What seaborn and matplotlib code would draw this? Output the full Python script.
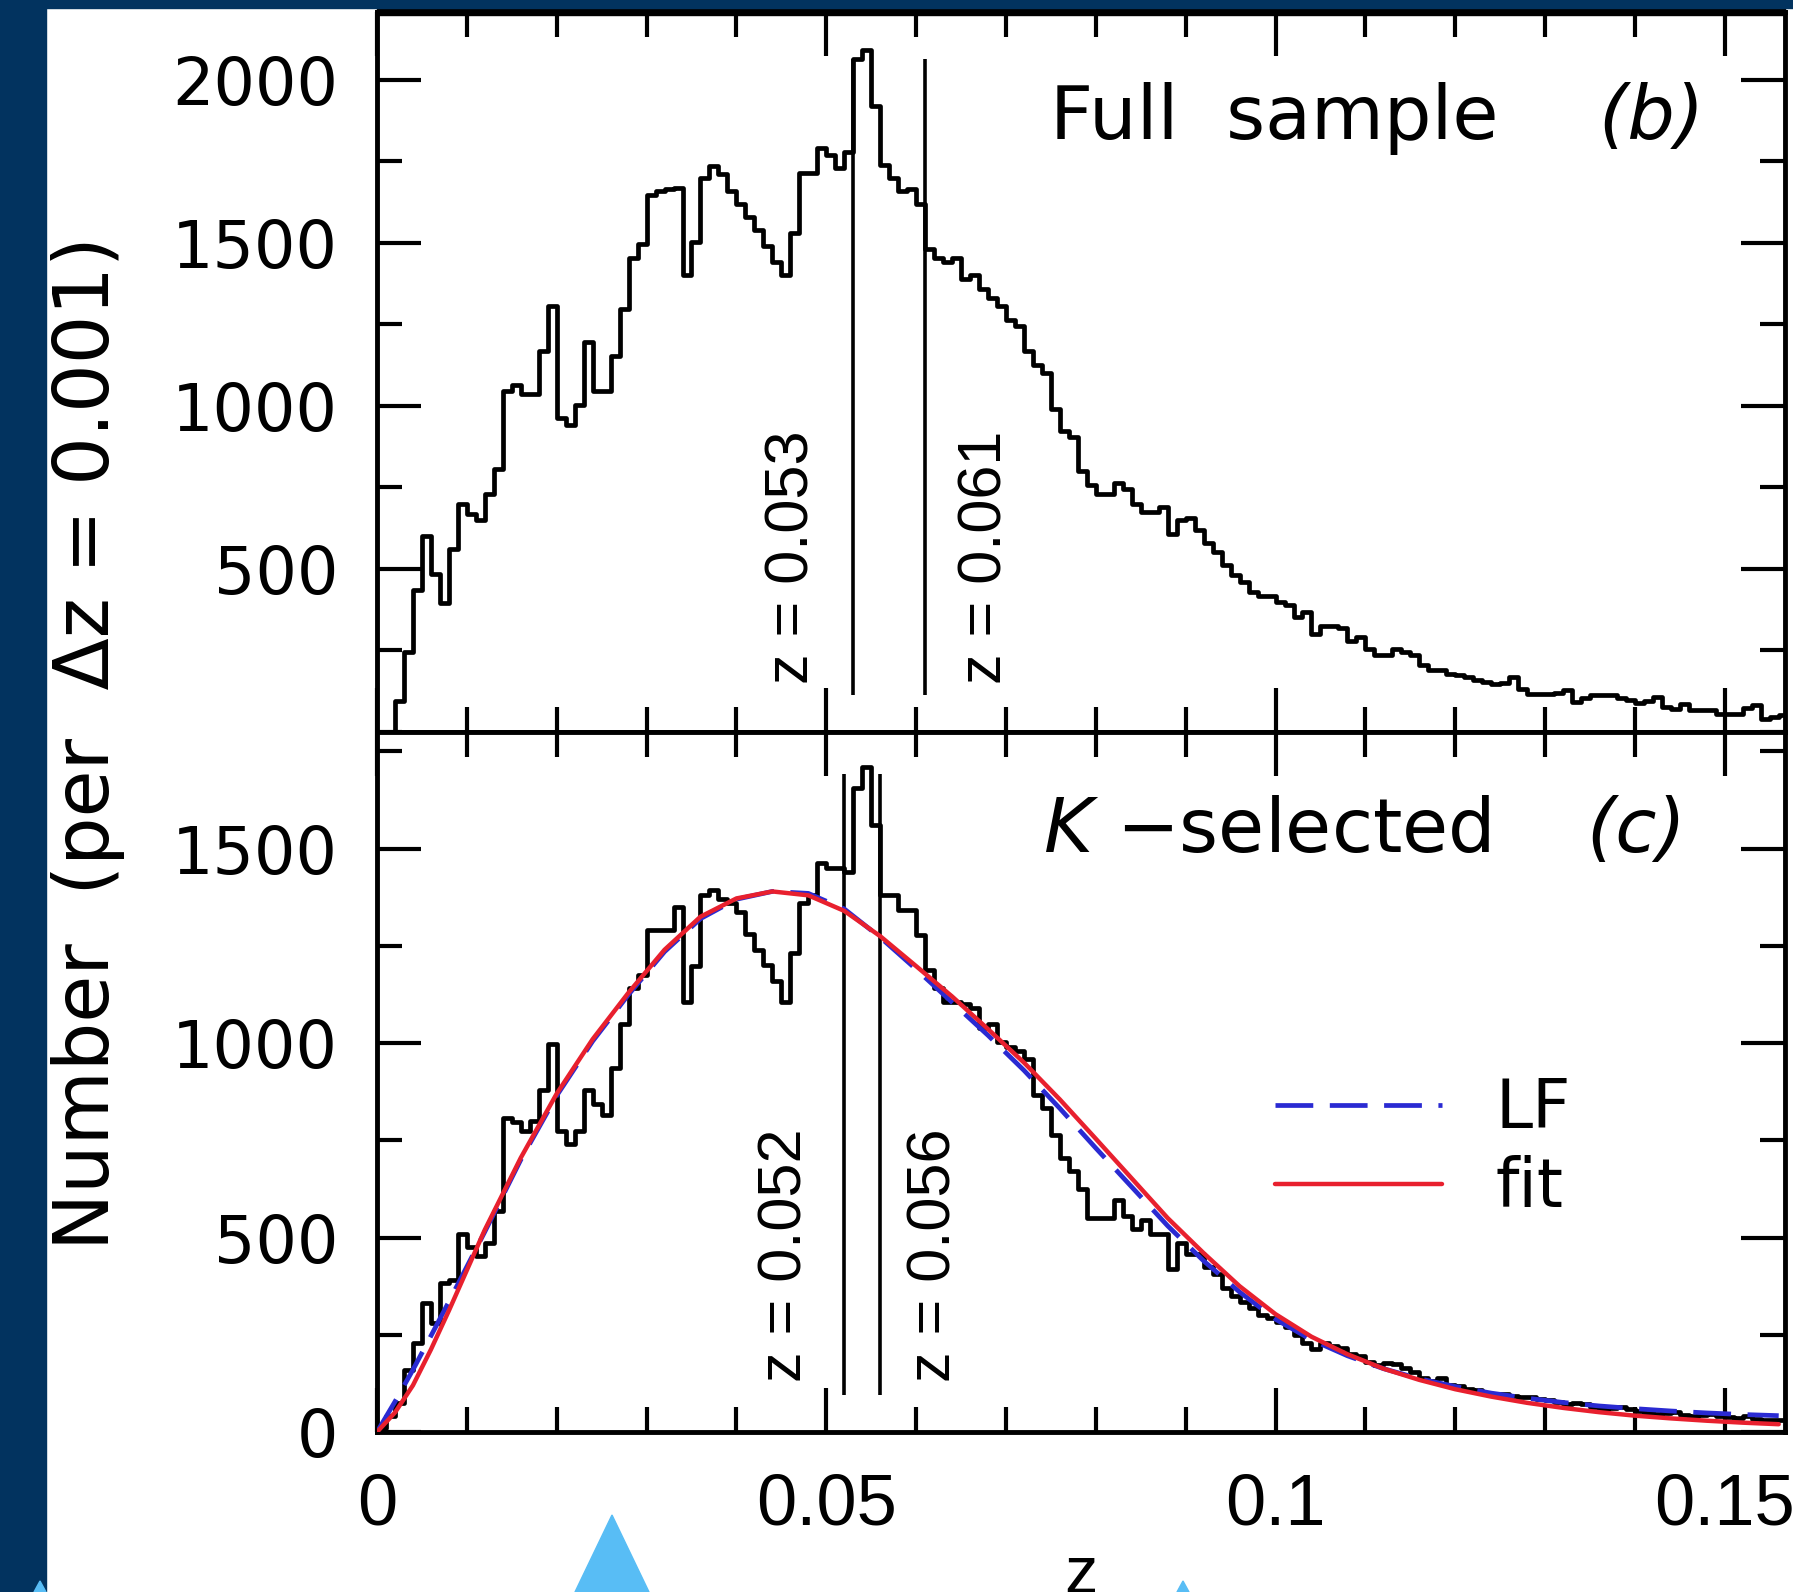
import numpy as np
import pandas as pd
import matplotlib
matplotlib.use("Agg")
import matplotlib.pyplot as plt
import seaborn as sns
from matplotlib.patches import Rectangle, Polygon
from matplotlib.ticker import MultipleLocator, FixedLocator

# ---------------- data ----------------
BIN = 0.001
X_MAX = 0.1567

# Full sample (b): counts per dz = 0.001, z = 0.000 ... 0.157
full_counts = [
    0, 0, 96, 246, 437, 600, 485, 396, 560, 700,
    670, 649, 730, 806, 1045, 1065, 1038, 1038, 1168, 1305,
    963, 943, 1004, 1195, 1045, 1045, 1154, 1298, 1455, 1496,
    1646, 1660, 1665, 1667, 1400, 1503, 1700, 1735, 1710, 1660,
    1620, 1580, 1540, 1490, 1440, 1400, 1530, 1715, 1715, 1790,
    1770, 1730, 1780, 2063, 2090, 1920, 1740, 1700, 1660, 1665,
    1620, 1480, 1455, 1440, 1455, 1390, 1400, 1360, 1332, 1305,
    1264, 1245, 1168, 1127, 1100, 990, 922, 905, 800, 758,
    731, 731, 765, 745, 700, 676, 676, 690, 608, 649,
    656, 621, 580, 553, 512, 480, 460, 430, 417, 417,
    400, 388, 352, 367, 301, 326, 326, 320, 280, 291,
    255, 235, 235, 255, 245, 235, 204, 189, 189, 179,
    175, 168, 160, 153, 148, 150, 168, 133, 117, 117,
    117, 120, 128, 92, 105, 112, 112, 112, 105, 97,
    90, 95, 107, 77, 71, 87, 66, 66, 66, 56,
    56, 56, 75, 82, 41, 45, 51,
]

# K-selected (c)
k_counts = [
    10, 40, 75, 160, 229, 333, 281, 384, 390, 510,
    476, 453, 487, 568, 808, 797, 774, 800, 880, 998,
    774, 740, 774, 880, 843, 814, 935, 1050, 1141, 1175,
    1290, 1290, 1290, 1350, 1107, 1198, 1382, 1395, 1370, 1360,
    1336, 1280, 1240, 1200, 1160, 1107, 1233, 1360, 1382, 1462,
    1451, 1451, 1440, 1657, 1709, 1560, 1382, 1382, 1342, 1342,
    1279, 1187, 1141, 1107, 1107, 1100, 1090, 1038, 1049, 1004,
    990, 981, 958, 866, 832, 763, 705, 671, 625, 551,
    551, 551, 596, 556, 522, 545, 510, 510, 419, 487,
    459, 459, 424, 407, 370, 350, 335, 320, 300, 292,
    284, 270, 249, 230, 213, 230, 220, 215, 201, 195,
    180, 172, 178, 175, 165, 154, 140, 130, 140, 120,
    118, 110, 107, 100, 95, 97, 93, 89, 89, 85,
    83, 78, 71, 74, 71, 65, 59, 62, 65, 58,
    53, 50, 47, 49, 52, 45, 41, 44, 46, 40,
    38, 36, 40, 34, 30, 32, 30,
]

# smooth model curves
curve_z = [0.000, 0.002, 0.004, 0.006, 0.008, 0.012, 0.016, 0.020, 0.024, 0.028,
           0.032, 0.036, 0.040, 0.044, 0.048, 0.052, 0.056, 0.060, 0.064, 0.068,
           0.072, 0.076, 0.080, 0.084, 0.088, 0.092, 0.096, 0.100, 0.104, 0.108,
           0.112, 0.116, 0.120, 0.124, 0.128, 0.132, 0.136, 0.140, 0.144, 0.148,
           0.152, 0.156]
lf_vals = [0, 78, 160, 247, 335, 515, 700, 865, 1005, 1125,
           1235, 1320, 1370, 1390, 1385, 1345, 1272, 1190, 1105, 1020,
           930, 832, 730, 630, 530, 440, 360, 290, 237, 196,
           163, 137, 117, 100, 87, 76, 67, 60, 54, 49,
           45, 42]
fit_vals = [0, 50, 120, 212, 312, 520, 705, 870, 1010, 1130,
            1240, 1325, 1372, 1390, 1380, 1340, 1275, 1198, 1120, 1036,
            950, 855, 754, 652, 550, 460, 375, 303, 245, 200,
            163, 134, 110, 91, 75, 62, 51, 42, 35, 29,
            24, 20]

# marker lines
b_lines = [0.053, 0.061]
b_line_span = (112, 2063)
c_lines = [0.052, 0.056]
c_line_span = (95, 1692)

# ---------------- style ----------------
sns.set_style("white")
plt.rcParams["font.family"] = ["DejaVu Sans"]
plt.rcParams["mathtext.fontset"] = "dejavusans"
for key in ("text.color", "axes.labelcolor", "xtick.color", "ytick.color"):
    plt.rcParams[key] = "black"

W, H = 1793, 1592
fig = plt.figure(figsize=(W / 100, H / 100), dpi=100)
fig.patch.set_facecolor("white")


def fx(px):
    return px / W


def fy(py):
    return 1 - py / H


L, R = 377, 1785
ax_b = fig.add_axes([fx(L), fy(732), (R - L) / W, (732 - 12) / H])
ax_c = fig.add_axes([fx(L), fy(1432), (R - L) / W, (1432 - 732) / H])


def draw_hist(ax, counts):
    n = len(counts)
    centers = (np.arange(n) + 0.5) * BIN
    df = pd.DataFrame({"z": centers, "n": np.asarray(counts, dtype=float)})
    sns.histplot(data=df, x="z", weights="n", binwidth=BIN, binrange=(0, n * BIN),
                 element="step", fill=False, color="black", linewidth=3.4, ax=ax)


draw_hist(ax_b, full_counts)
draw_hist(ax_c, k_counts)

sns.lineplot(x=curve_z, y=lf_vals, ax=ax_c, color="#2a2ad2", linewidth=3.4,
             linestyle=(0, (8, 3.5)), label="LF", zorder=4)
sns.lineplot(x=curve_z, y=fit_vals, ax=ax_c, color="#e8202e", linewidth=3.2,
             label="fit", zorder=5)

ax_b.vlines(b_lines, b_line_span[0], b_line_span[1], color="black", linewidth=2.6)
ax_c.vlines(c_lines, c_line_span[0], c_line_span[1], color="black", linewidth=2.6)

ann_font = dict(family="Liberation Sans", fontsize=44, rotation=90,
                ha="center", va="center")
ax_b.text(0.04627, 536, f"z = {b_lines[0]:.3f}", **ann_font)
ax_b.text(0.06774, 536, f"z = {b_lines[1]:.3f}", **ann_font)
ax_c.text(0.04555, 455, f"z = {c_lines[0]:.3f}", **ann_font)
ax_c.text(0.06210, 455, f"z = {c_lines[1]:.3f}", **ann_font)

# axes formatting
for ax in (ax_b, ax_c):
    ax.set_xlim(0, X_MAX)
    ax.xaxis.set_major_locator(FixedLocator([0, 0.05, 0.1, 0.15]))
    ax.xaxis.set_minor_locator(MultipleLocator(0.01))
    ax.yaxis.set_minor_locator(MultipleLocator(250))
    ax.tick_params(which="both", direction="in", top=True, right=True,
                   bottom=True, left=True, width=3, color="black")
    ax.tick_params(which="major", length=32)
    ax.tick_params(which="minor", length=18)
    ax.tick_params(axis="y", labelsize=47, pad=28)
    for s in ax.spines.values():
        s.set_linewidth(3.5)
        s.set_color("black")
    ax.set_xlabel("")
    ax.set_ylabel("")
    ax.set_facecolor("white")

ax_b.set_ylim(0, 2208)
ax_b.yaxis.set_major_locator(FixedLocator([500, 1000, 1500, 2000]))
ax_b.tick_params(axis="x", labelbottom=False)

ax_c.set_ylim(0, 1800)
ax_c.yaxis.set_major_locator(FixedLocator([0, 500, 1000, 1500]))
ax_c.set_xticks([0, 0.05, 0.1, 0.15])
ax_c.set_xticklabels(["0", "0.05", "0.1", "0.15"], family="Liberation Sans", fontsize=52)
ax_c.tick_params(axis="x", pad=29)
ax_c.set_xlabel("z", family="Liberation Sans", fontsize=48, labelpad=4)

# panel titles
ax_b.text(0.478, 0.823, "Full  sample", transform=ax_b.transAxes,
          fontsize=54, ha="left", va="baseline")
ax_b.text(0.9425, 0.823, "(b)", transform=ax_b.transAxes, fontsize=54,
          style="italic", ha="right", va="baseline")
ax_c.text(0.473, 0.8286, r"$K$ −selected", transform=ax_c.transAxes,
          fontsize=54, ha="left", va="baseline")
ax_c.text(0.930, 0.8286, "(c)", transform=ax_c.transAxes, fontsize=54,
          style="italic", ha="right", va="baseline")

ax_c.legend(loc="center left", bbox_to_anchor=(0.638, 0.405), frameon=False,
            fontsize=48, handlelength=2.5, handletextpad=0.8, labelspacing=0.2,
            borderpad=0, borderaxespad=0)

fig.text(fx(88), fy(743), "Number  (per  Δz = 0.001)", rotation=90,
         fontsize=55, ha="center", va="center")

# slide decorations
navy = "#02335f"
fig.patches.append(Rectangle((0, 0), fx(46), 1, transform=fig.transFigure,
                             color=navy, zorder=10))
fig.patches.append(Rectangle((0, fy(8)), 1, 8 / H, transform=fig.transFigure,
                             color=navy, zorder=10))
fig.patches.append(Rectangle((fx(L), fy(15)), (R - L) / W, 8 / H,
                             transform=fig.transFigure, color="black", zorder=9))
sky = "#58bdf5"
fig.patches.append(Polygon([(fx(575), 0), (fx(612), fy(1515)), (fx(649), 0)],
                           closed=True, transform=fig.transFigure, color=sky, zorder=11))
fig.patches.append(Polygon([(fx(34), 0), (fx(40), fy(1581)), (fx(46), 0)],
                           closed=True, transform=fig.transFigure, color=sky, zorder=11))
fig.patches.append(Polygon([(fx(1177), 0), (fx(1183), fy(1581)), (fx(1189), 0)],
                           closed=True, transform=fig.transFigure, color=sky, zorder=11))

fig.savefig("out.png", dpi=100, facecolor=fig.get_facecolor())
